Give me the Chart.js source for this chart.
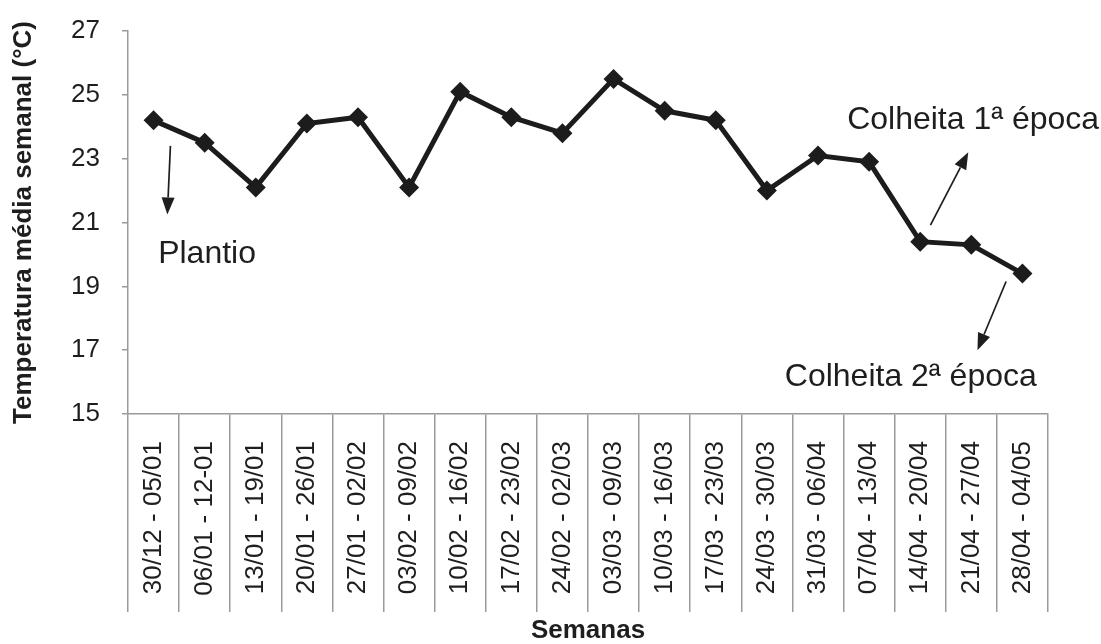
<!DOCTYPE html>
<html>
<head>
<meta charset="utf-8">
<script src="https://cdn.jsdelivr.net/npm/chart.js@4.4.1/dist/chart.umd.min.js"></script>
<style>
  html, body { margin: 0; padding: 0; background: #ffffff; }
  #wrap { width: 1101px; height: 644px; position: relative; }
</style>
</head>
<body>
<div id="wrap"><canvas id="grafico" width="1101" height="644"></canvas></div>
<script>
// Semanas do ciclo (categorias do eixo X)
const semanas = [
  '30/12 - 05/01', '06/01 - 12-01', '13/01 - 19/01', '20/01 - 26/01',
  '27/01 - 02/02', '03/02 - 09/02', '10/02 - 16/02', '17/02 - 23/02',
  '24/02 - 02/03', '03/03 - 09/03', '10/03 - 16/03', '17/03 - 23/03',
  '24/03 - 30/03', '31/03 - 06/04', '07/04 - 13/04', '14/04 - 20/04',
  '21/04 - 27/04', '28/04 - 04/05'
];

// Temperatura média semanal (°C)
const temperatura = [
  24.2, 23.5, 22.1, 24.1, 24.3, 22.1, 25.1, 24.3, 23.8,
  25.5, 24.5, 24.2, 22.0, 23.1, 22.9, 20.4, 20.3, 19.4
];

// Marcas do eixo Y
const marcasY = [15, 17, 19, 21, 23, 25, 27];

const FONTE = "'Liberation Sans', Arial, Helvetica, sans-serif";
const COR_TEXTO = '#1e1e1e';
const COR_EIXO = '#9a9a9a';

// Notas e setas, posicionadas em unidades dos eixos (índice da semana, °C)
const notas = [
  { texto: 'Plantio',           x: 0.09,  y: 20.0 },
  { texto: 'Colheita 1ª época', x: 13.57, y: 24.2 },
  { texto: 'Colheita 2ª época', x: 12.35, y: 16.15 }
];
const setas = [
  { de: [0.33, 23.4],  para: [0.27, 21.25] },
  { de: [15.2, 20.92], para: [15.94, 23.2] },
  { de: [16.68, 19.15], para: [16.12, 17.0] }
];

const pluginNotas = {
  id: 'notas',
  afterDatasetsDraw(chart) {
    const { ctx, scales: { x, y } } = chart;
    ctx.save();
    ctx.strokeStyle = COR_TEXTO;
    ctx.fillStyle = COR_TEXTO;
    ctx.lineWidth = 1.7;
    setas.forEach(s => {
      const x0 = x.getPixelForValue(s.de[0]), y0 = y.getPixelForValue(s.de[1]);
      const x1 = x.getPixelForValue(s.para[0]), y1 = y.getPixelForValue(s.para[1]);
      const ang = Math.atan2(y1 - y0, x1 - x0);
      const comp = 17, meia = 6.5;
      const bx = x1 - comp * Math.cos(ang), by = y1 - comp * Math.sin(ang);
      ctx.beginPath();
      ctx.moveTo(x0, y0);
      ctx.lineTo(bx, by);
      ctx.stroke();
      ctx.beginPath();
      ctx.moveTo(x1, y1);
      ctx.lineTo(bx + meia * Math.sin(ang), by - meia * Math.cos(ang));
      ctx.lineTo(bx - meia * Math.sin(ang), by + meia * Math.cos(ang));
      ctx.closePath();
      ctx.fill();
    });
    ctx.font = '32px ' + FONTE;
    ctx.textAlign = 'left';
    ctx.textBaseline = 'middle';
    notas.forEach(n => {
      ctx.fillText(n.texto, x.getPixelForValue(n.x), y.getPixelForValue(n.y));
    });
    ctx.restore();
  }
};

new Chart(document.getElementById('grafico'), {
  type: 'line',
  data: {
    labels: semanas,
    datasets: [{
      data: temperatura,
      borderColor: '#1c1c1c',
      borderWidth: 5,
      pointStyle: 'rectRot',
      pointRadius: 10,
      pointBackgroundColor: '#1c1c1c',
      pointBorderColor: '#1c1c1c',
      pointBorderWidth: 0,
      tension: 0,
      fill: false
    }]
  },
  options: {
    responsive: false,
    animation: false,
    layout: { padding: { left: 0, right: 53, top: 31, bottom: 0 } },
    plugins: { legend: { display: false }, tooltip: { enabled: false } },
    scales: {
      x: {
        type: 'category',
        offset: true,
        grid: {
          display: true, offset: true, drawOnChartArea: false, drawTicks: true,
          tickLength: 198, color: COR_EIXO, lineWidth: 1.5
        },
        border: { display: true, color: COR_EIXO, width: 1.5 },
        ticks: {
          autoSkip: false, minRotation: 90, maxRotation: 90, padding: -171,
          color: COR_TEXTO, font: { family: FONTE, size: 26 }
        },
        title: {
          display: true, text: 'Semanas', color: COR_TEXTO,
          font: { family: FONTE, size: 26, weight: 'bold', lineHeight: 1.0 },
          padding: { top: 0, bottom: 0 }
        },
        afterFit(escala) {
          escala.height = 230;
          escala.paddingLeft = 0;
          escala.paddingRight = 0;
        }
      },
      y: {
        min: 15, max: 27,
        afterBuildTicks(escala) { escala.ticks = marcasY.map(v => ({ value: v })); },
        grid: { drawOnChartArea: false, drawTicks: true, tickLength: 6, color: COR_EIXO, lineWidth: 1.5 },
        border: { display: true, color: COR_EIXO, width: 1.5 },
        ticks: { padding: 22, color: COR_TEXTO, font: { family: FONTE, size: 26 } },
        title: {
          display: true, text: 'Temperatura média semanal (°C)', color: COR_TEXTO,
          font: { family: FONTE, size: 26, weight: 'bold', lineHeight: 1.2 },
          padding: { top: 8, bottom: 0 }
        },
        afterFit(escala) {
          escala.width = 128;
          escala.paddingTop = 0;
          escala.paddingBottom = 0;
        }
      }
    }
  },
  plugins: [pluginNotas]
});
</script>
</body>
</html>
